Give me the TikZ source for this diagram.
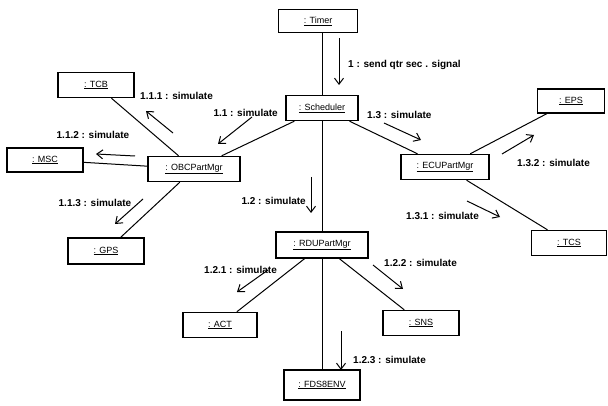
\documentclass[tikz,border=0pt]{standalone}
\usepackage{fontspec}
\setmainfont{Liberation Sans}
\usetikzlibrary{arrows.meta}

\begin{document}
\begin{tikzpicture}[x=1pt, y=-1pt,
  main/.style = {draw, line width=1.4pt, minimum width=76pt, minimum height=25pt, inner sep=1pt, font=\fontsize{9}{10}\selectfont},
  link/.style = {line width=1pt},
  msg/.style = {-{Straight Barb[length=6pt,width=9pt]}, line width=1pt},
  lbl/.style = {inner sep=0pt, font=\fontsize{10}{12}\selectfont\bfseries}]

\useasboundingbox (0,0) rectangle (608,406);

\node[main, minimum width=79pt, minimum height=23pt] (Timer) at (318,21) {\underline{: Timer}};
\node[main, minimum width=72pt] (Sched) at (322,108) {\underline{: Scheduler}};
\node[main, minimum width=92pt] (OBC) at (194,169) {\underline{: OBCPartMgr}};
\node[main, minimum width=88pt] (ECU) at (445,167) {\underline{: ECUPartMgr}};
\node[main, minimum width=92pt, minimum height=26pt] (RDU) at (322,245) {\underline{: RDUPartMgr}};
\node[main, minimum height=30pt] (FDS) at (322,385) {\underline{: FDS8ENV}};
\node[main] (TCB) at (96,85) {\underline{: TCB}};
\node[main, minimum height=24pt] (MSC) at (45,160) {\underline{: MSC}};
\node[main, minimum height=26pt] (GPS) at (106,251) {\underline{: GPS}};
\node[main, minimum width=67pt, minimum height=24pt] (EPS) at (571,101) {\underline{: EPS}};
\node[main, minimum width=75pt] (TCS) at (569,243) {\underline{: TCS}};
\node[main, minimum width=74pt] (ACT) at (220,325) {\underline{: ACT}};
\node[main] (SNS) at (421,323) {\underline{: SNS}};

\draw[link] (Sched.north) -- (Sched.north |- Timer.south);
\draw[link] (Sched) -- (OBC);
\draw[link] (Sched) -- (ECU);
\draw[link] (Sched) -- (RDU);
\draw[link] (OBC) -- (TCB);
\draw[link] (OBC) -- (MSC);
\draw[link] (OBC) -- (GPS);
\draw[link] (ECU) -- (EPS);
\draw[link] (ECU) -- (TCS);
\draw[link] (RDU) -- (ACT);
\draw[link] (RDU) -- (SNS);
\draw[link] (RDU) -- (FDS);

% messages
\draw[msg] (339,38) -- (339,85);
\node[lbl, anchor=west] (l1) at (348,65) {1 : send qtr sec . signal};
\draw[msg] (252,117) -- (218,144);
\node[lbl, anchor=east] (l11) at (278,113) {1.1 : simulate};
\draw[msg] (173,133) -- (146,111);
\node[lbl, anchor=west] (l111) at (140,96) {1.1.1 : simulate};
\draw[msg] (135,156) -- (96,154);
\node[lbl] (l112) at (93,135) {1.1.2 : simulate};
\draw[msg] (143,199) -- (115,224);
\node[lbl] (l113) at (95,203) {1.1.3 : simulate};
\draw[msg] (311,177) -- (311,213);
\node[lbl, anchor=east] (l12) at (306,201) {1.2 : simulate};
\draw[msg] (384,123) -- (421,140);
\node[lbl, anchor=west] (l13) at (367,115) {1.3 : simulate};
\draw[msg] (502,154) -- (534,135);
\node[lbl, anchor=west] (l132) at (517,163) {1.3.2 : simulate};
\draw[msg] (467,201) -- (500,217);
\node[lbl, anchor=west] (l131) at (406,216) {1.3.1 : simulate};
\draw[msg] (268,270) -- (237,292);
\node[lbl, anchor=west] (l121) at (204,270) {1.2.1 : simulate};
\draw[msg] (373,265) -- (403,289);
\node[lbl, anchor=west] (l122) at (384,263) {1.2.2 : simulate};
\draw[msg] (341,331) -- (341,370);
\node[lbl, anchor=west] (l123) at (353,360) {1.2.3 : simulate};

\end{tikzpicture}
\end{document}
